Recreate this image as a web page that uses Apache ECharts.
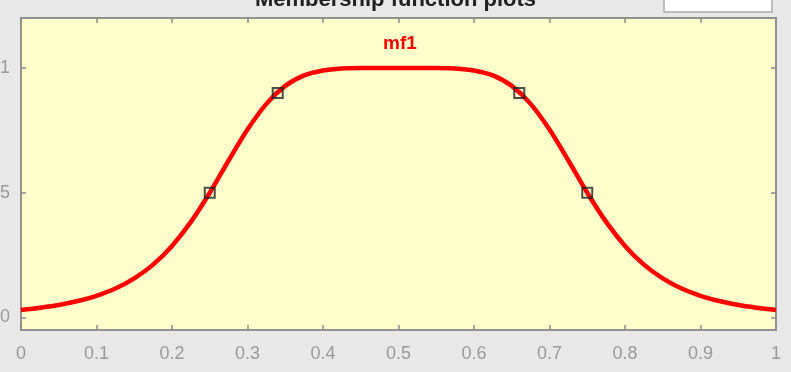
<!DOCTYPE html>
<html>
<head>
<meta charset="utf-8">
<style>
html,body{margin:0;padding:0;background:#e8e8e8;}
#chart{width:791px;height:372px;}
</style>
<script src="https://cdn.jsdelivr.net/npm/echarts@6/dist/echarts.min.js"></script>
</head>
<body>
<div id="chart"></div>
<script>
// Curve samples (x step 0.025)
const xValues = [0,0.025,0.05,0.075,0.1,0.125,0.15,0.175,0.2,0.225,0.25,0.275,0.3,0.325,0.35,0.375,0.4,0.425,0.45,0.475,0.5,
  0.525,0.55,0.575,0.6,0.625,0.65,0.675,0.7,0.725,0.75,0.775,0.8,0.825,0.85,0.875,0.9,0.925,0.95,0.975,1];
const muValues = [0.030,0.039,0.050,0.066,0.087,0.116,0.157,0.212,0.287,0.383,0.500,0.629,0.753,0.856,0.928,0.970,0.990,0.998,1.000,1.000,1.000,
  1.000,1.000,0.998,0.990,0.970,0.928,0.856,0.753,0.629,0.500,0.383,0.287,0.212,0.157,0.116,0.087,0.066,0.050,0.039,0.030];
const markerX = [0.25,0.34,0.66,0.75];
const markerY = [0.5,0.9,0.9,0.5];
const yTickValues = [0,0.5,1];
const yTickLabels = ['0','.5','1'];
const titleText = 'Membership function plots';
const mfName = 'mf1';

const chart = echarts.init(document.getElementById('chart'));
const axisColor = '#8c8c8c';
const labelColor = '#999999';
const font = '"Liberation Sans", Arial, sans-serif';

const xAxisBase = {
  type: 'value', min: 0, max: 1, interval: 0.1,
  axisLine: {show: true, onZero: false, lineStyle: {color: axisColor, width: 1.5}},
  axisTick: {show: true, inside: true, length: 5, lineStyle: {color: axisColor, width: 1.5}},
  splitLine: {show: false}
};
const yAxisBase = {
  type: 'value', min: -0.05, max: 1.2,
  axisLine: {show: true, onZero: false, lineStyle: {color: axisColor, width: 1.5}},
  axisTick: {show: true, inside: true, length: 5, customValues: yTickValues, lineStyle: {color: axisColor, width: 1.5}},
  splitLine: {show: false}
};

chart.setOption({
  backgroundColor: '#e8e8e8',
  animation: false,
  grid: {left: 21, right: 15, top: 18, bottom: 42, containLabel: false, outerBoundsMode: 'none',
    show: true, backgroundColor: '#ffffcc', borderColor: axisColor, borderWidth: 1.5},
  xAxis: [
    Object.assign({}, xAxisBase, {
      position: 'bottom',
      axisLabel: {show: true, margin: 15, fontSize: 18, color: labelColor, fontFamily: font,
        formatter: v => { const r = Math.round(v * 10) / 10; return (r === 0 || r === 1) ? String(r) : r.toFixed(1); }}
    }),
    Object.assign({}, xAxisBase, {position: 'top', axisLabel: {show: false}})
  ],
  yAxis: [
    Object.assign({}, yAxisBase, {
      position: 'left',
      axisLabel: {show: true, margin: 11, fontSize: 18, color: labelColor, fontFamily: font, customValues: yTickValues,
        formatter: v => { const i = yTickValues.findIndex(t => Math.abs(t - v) < 1e-6); return i >= 0 ? yTickLabels[i] : ''; }}
    }),
    Object.assign({}, yAxisBase, {position: 'right', axisLabel: {show: false}})
  ],
  series: [
    {
      type: 'line', xAxisIndex: 0, yAxisIndex: 0,
      data: xValues.map((x, i) => [x, muValues[i]]),
      showSymbol: false, smooth: 0.3,
      lineStyle: {color: '#ff0000', width: 4.5},
      z: 2
    },
    {
      type: 'scatter', xAxisIndex: 0, yAxisIndex: 0,
      data: markerX.map((x, i) => [x, markerY[i]]),
      symbol: 'rect', symbolSize: 10,
      itemStyle: {color: 'rgba(0,0,0,0)', borderColor: '#222222', borderWidth: 2},
      z: 3
    }
  ],
  graphic: [
    {type: 'text', left: 'center', top: -11, style: {text: titleText, font: 'bold 22px ' + font, fill: '#222222'}},
    {type: 'rect', shape: {x: 664, y: -2, width: 108, height: 14}, style: {fill: '#ffffff', stroke: '#aaaaaa', lineWidth: 1.5}},
    {type: 'text', x: 400, y: 44, style: {text: mfName, font: 'bold 19px ' + font, fill: '#ff0000', align: 'center', verticalAlign: 'middle'}, z: 10}
  ]
});
</script>
</body>
</html>
